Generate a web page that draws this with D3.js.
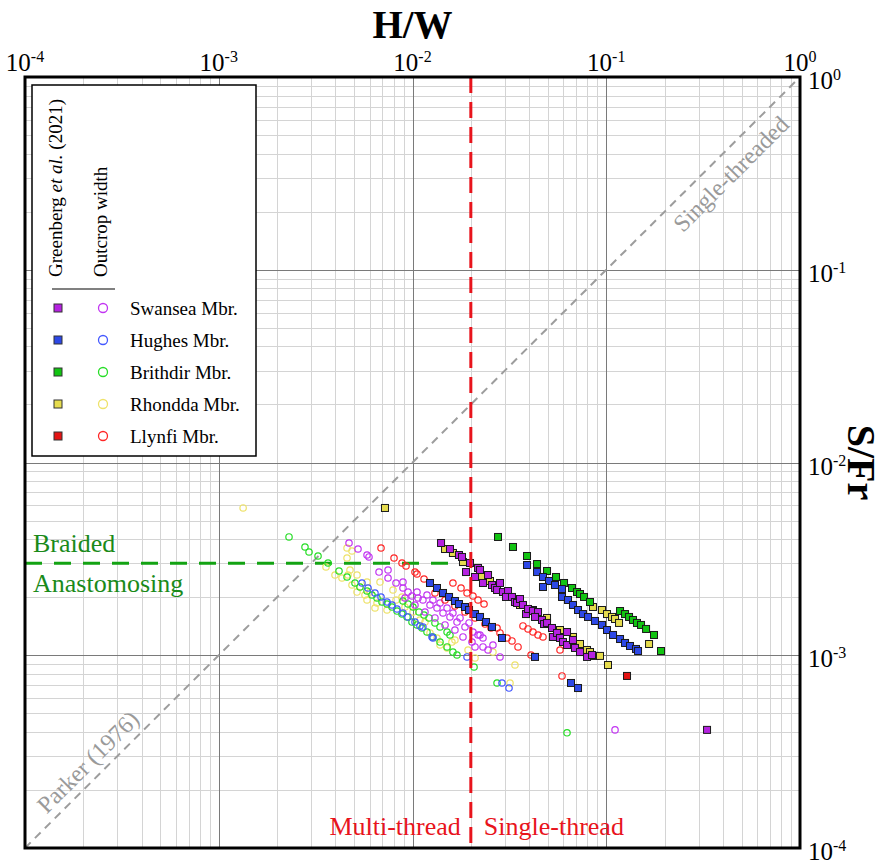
<!DOCTYPE html>
<html>
<head>
<meta charset="utf-8">
<title>H/W vs S/Fr</title>
<script src="https://cdn.jsdelivr.net/npm/d3@7"></script>
<style>
  body { margin: 0; background: #fff; }
  svg { font-family: "Liberation Serif", "Times New Roman", serif; }
  .minor { stroke: #d4d4d4; stroke-width: 1; }
  .major { stroke: #7a7a7a; stroke-width: 1; }
</style>
</head>
<body>
<svg id="chart" width="888" height="865"></svg>
<script>
// ---- data: [H/W, S/Fr] ----
const members = ['Swansea Mbr.', 'Hughes Mbr.', 'Brithdir Mbr.', 'Rhondda Mbr.', 'Llynfi Mbr.'];
const decades = [-4, -3, -2, -1, 0];

// Greenberg et al. (2021) - squares
const swanseaSquares = [[0.01404,0.003823],[0.01561,0.003558],[0.01737,0.003312],[0.01801,0.003235],[0.01981,0.003011],[0.02179,0.002836],
  [0.01889,0.002702],[0.02102,0.002547],[0.02231,0.002769],[0.02311,0.002371],[0.02454,0.002608],[0.02572,0.002314],[0.02665,0.002233],
  [0.02731,0.002180],[0.02829,0.002371],[0.02931,0.002128],[0.03112,0.002154],[0.03038,0.002006],[0.03262,0.002006],[0.03380,0.001889],
  [0.03463,0.001867],[0.03588,0.001958],[0.03717,0.001823],[0.03853,0.001636],[0.03947,0.001738],[0.04187,0.001696],[0.04445,0.001676],
  [0.04288,0.001580],[0.04660,0.001524],[0.04774,0.001452],[0.04947,0.001471],[0.05248,0.001385],[0.05310,0.001244],[0.05571,0.001305],
  [0.05772,0.001229],[0.05980,0.001171],[0.06274,0.001320],[0.06274,0.001130],[0.06734,0.001200],[0.06897,0.001091],[0.07320,0.001039],
  [0.07957,0.000980],[0.08442,0.001003],[0.3313,0.000410]];
const hughesSquares = [[0.01231,0.002371],[0.01338,0.002233],[0.01437,0.002104],[0.01544,0.002006],[0.01656,0.001912],[0.01737,0.001844],
  [0.01866,0.001780],[0.01958,0.001717],[0.02102,0.001636],[0.02231,0.001580],[0.02396,0.001487],[0.02572,0.001402],[0.02897,0.001229],
  [0.04288,0.000980],[0.06578,0.000718],[0.07150,0.000676],
  [0.03900,0.002939],[0.04393,0.002702],[0.04715,0.002547],[0.05065,0.002428],[0.04715,0.002260],[0.05438,0.002314],[0.05911,0.002206],
  [0.05911,0.002006],[0.06349,0.001935],[0.06734,0.001823],[0.07150,0.001717],[0.07584,0.001636],[0.08052,0.001580],[0.08747,0.001506],
  [0.09507,0.001436],[0.1009,0.001352],[0.1084,0.001274],[0.1178,0.001214],[0.1250,0.001158],[0.1326,0.001117],[0.1424,0.001078],[0.1459,0.001052]];
const brithdirSquares = [[0.02763,0.004108],[0.03301,0.003645],[0.03900,0.003273],[0.04393,0.002973],[0.04947,0.002736],[0.05504,0.002547],
  [0.06055,0.002371],[0.06656,0.002233],[0.07066,0.002128],[0.07320,0.002078],[0.07679,0.002006],[0.08244,0.001889],[0.1178,0.001696],
  [0.1250,0.001636],[0.1311,0.001580],[0.1374,0.001524],[0.1441,0.001471],[0.1512,0.001436],[0.1605,0.001369],[0.1764,0.001274],[0.1917,0.001052]];
const rhonddaSquares = [[0.00721,0.005809],[0.01472,0.003558],[0.01617,0.003393],[0.01822,0.003045],[0.02285,0.002547],[0.02512,0.002428],
  [0.03588,0.001823],[0.04187,0.001717],[0.04947,0.001561],[0.05772,0.001352],[0.06734,0.001244],[0.07320,0.001144],[0.07957,0.001065],
  [0.08244,0.001039],[0.08747,0.000992],[0.09284,0.000992],[0.1021,0.000890],[0.08541,0.001780],[0.09507,0.001717],[0.1009,0.001636],
  [0.1071,0.001580],[0.1110,0.001542],[0.1164,0.001471],[0.1663,0.001144]];
const llynfiSquares = [[0.1280,0.000781]];

// Outcrop width - circles
const swanseaCircles = [[0.004703,0.003823],[0.005234,0.003558],[0.005824,0.003312],[0.005963,0.003235],[0.006717,0.002702],[0.007477,0.002769],
  [0.007477,0.002517],[0.008220,0.002371],[0.008930,0.002398],[0.008930,0.002233],[0.009482,0.002128],[0.009940,0.002030],[0.01055,0.002128],
  [0.01068,0.001982],[0.01132,0.001935],[0.01188,0.002054],[0.01231,0.001823],[0.01275,0.001935],[0.01338,0.001759],[0.01387,0.001867],
  [0.01437,0.001657],[0.01508,0.001759],[0.01561,0.001580],[0.01617,0.001657],[0.01697,0.001487],[0.01759,0.001561],[0.01866,0.001402],
  [0.01958,0.001471],[0.02052,0.001320],[0.02179,0.001274],[0.02311,0.001229],[0.02311,0.001104],[0.02231,0.001274],[0.02602,0.001130],
  [0.02829,0.000980],[0.009146,0.001982],[0.01030,0.001823],[0.01160,0.001676],[0.01306,0.001561],[0.01472,0.001436],[0.01656,0.001352],
  [0.01822,0.001244],[0.02028,0.001171],[0.02454,0.001065],[0.02102,0.001104],[0.1110,0.000410]];
const hughesCircles = [[0.005487,0.002371],[0.005894,0.002233],[0.006403,0.002104],[0.006879,0.002006],[0.007388,0.001889],[0.007838,0.001823],
  [0.008320,0.001738],[0.008930,0.001657],[0.009482,0.001580],[0.01030,0.001487],[0.01093,0.001419],[0.01132,0.001402],[0.01261,0.001244],
  [0.01275,0.001229],[0.01912,0.000980],[0.02897,0.000718],[0.03149,0.000676]];
const brithdirCircles = [[0.002305,0.004108],[0.002787,0.003645],[0.002924,0.003432],[0.003254,0.003273],[0.003664,0.003011],[0.004176,0.002736],
  [0.004593,0.002547],[0.005048,0.002371],[0.005358,0.002260],[0.005824,0.002154],[0.006180,0.002054],[0.006560,0.001982],[0.006960,0.001889],
  [0.007388,0.001844],[0.007838,0.001780],[0.008320,0.001696],[0.008827,0.001636],[0.009370,0.001580],[0.009940,0.001487],[0.01055,0.001436],
  [0.01119,0.001385],[0.01188,0.001320],[0.01275,0.001244],[0.01387,0.001171],[0.01508,0.001104],[0.01617,0.001039],[0.01697,0.001003],
  [0.008930,0.001912],[0.009482,0.001844],[0.01006,0.001780],[0.01080,0.001676],[0.01147,0.001617],[0.01217,0.001561],[0.01306,0.001471],
  [0.01387,0.001402],[0.01508,0.001320],[0.01561,0.001274],[0.02078,0.000869],[0.02731,0.000718],[0.06274,0.000396]];
const rhonddaCircles = [[0.001336,0.005809],[0.004593,0.003602],[0.004872,0.003474],[0.004593,0.003196],[0.003577,0.002870],[0.003981,0.002608],
  [0.004326,0.002517],[0.004758,0.002769],[0.004648,0.002608],[0.005172,0.002608],[0.004872,0.002314],[0.005358,0.002260],[0.005172,0.002128],
  [0.005685,0.002054],[0.006035,0.002128],[0.005824,0.001935],[0.006560,0.001867],[0.006403,0.001759],[0.006797,0.002398],[0.005824,0.002398],
  [0.007388,0.001717],[0.007930,0.002180],[0.008220,0.001935],[0.008827,0.002006],[0.009146,0.001780],[0.01006,0.001676],[0.01093,0.001524],
  [0.01160,0.001487],[0.01231,0.001305],[0.01338,0.001229],[0.01387,0.001130],[0.01508,0.001091],[0.01598,0.001171],[0.01935,0.001065],
  [0.02102,0.000968],[0.03380,0.000890],[0.03186,0.000718],[0.02602,0.001039],[0.01656,0.001200]];
const llynfiCircles = [[0.006879,0.003602],[0.008029,0.003196],[0.008827,0.003011],[0.009258,0.002905],[0.01030,0.002702],[0.01055,0.002639],
  [0.01147,0.002487],[0.01617,0.002371],[0.01780,0.002233],[0.01912,0.002104],[0.02052,0.002030],[0.02179,0.001935],[0.02340,0.001844],
  [0.01306,0.002104],[0.01472,0.001935],[0.01656,0.001801],[0.01866,0.001676],[0.02102,0.001561],[0.02367,0.001452],[0.02542,0.001385],
  [0.02731,0.001385],[0.02829,0.001305],[0.03075,0.001229],[0.03262,0.001186],[0.03505,0.001104],[0.04090,0.001003],[0.03717,0.001419],
  [0.03947,0.001369],[0.04187,0.001320],[0.04445,0.001274],[0.04715,0.001244],[0.05772,0.001065],[0.05911,0.000781]];

const braidedLimit = 0.003;   // S/Fr
const threadLimit = 0.02;     // H/W

const squareFill = ['#b522e0', '#2d48e6', '#12c412', '#e6dc4e', '#e41414'];
const circleStroke = ['#c235f2', '#4358ff', '#27dd27', '#eee26a', '#ff2626'];

// ---- chart ----
const svg = d3.select('#chart');
const pLeft = 25, pRight = 800, pTop = 77, pBottom = 848;

const x = d3.scaleLog().domain([1e-4, 1]).range([pLeft, pRight]);
const y = d3.scaleLog().domain([1e-4, 1]).range([pBottom, pTop]);

const isDecade = d => Math.abs(Math.log10(d) - Math.round(Math.log10(d))) < 1e-9;

svg.append('rect').attr('x', pLeft).attr('y', pTop).attr('width', pRight - pLeft).attr('height', pBottom - pTop).attr('fill', '#fff');

// grid: minor first, then decades
const grid = svg.append('g');
[false, true].forEach(major => {
  grid.append('g').selectAll('line')
    .data(x.ticks().filter(d => isDecade(d) === major))
    .join('line')
    .attr('class', major ? 'major' : 'minor')
    .attr('x1', d => Math.round(x(d)) + 0.5).attr('x2', d => Math.round(x(d)) + 0.5)
    .attr('y1', pTop).attr('y2', pBottom);
  grid.append('g').selectAll('line')
    .data(y.ticks().filter(d => isDecade(d) === major))
    .join('line')
    .attr('class', major ? 'major' : 'minor')
    .attr('y1', d => Math.round(y(d)) + 0.5).attr('y2', d => Math.round(y(d)) + 0.5)
    .attr('x1', pLeft).attr('x2', pRight);
});

// 1:1 line (Parker 1976)
svg.append('line')
  .attr('x1', x(1e-4)).attr('y1', y(1e-4)).attr('x2', x(1)).attr('y2', y(1))
  .attr('stroke', '#9d9d9d').attr('stroke-width', 2).attr('stroke-dasharray', '8,6');

svg.append('text')
  .attr('transform', 'translate(731,174) rotate(-45)')
  .attr('text-anchor', 'middle').attr('dominant-baseline', 'central')
  .attr('font-size', 24).attr('fill', '#9a9a9a').text('Single-threaded');
svg.append('text')
  .attr('transform', 'translate(88,762) rotate(-45)')
  .attr('text-anchor', 'middle').attr('dominant-baseline', 'central')
  .attr('font-size', 24).attr('fill', '#9a9a9a').text('Parker (1976)');

// braided / anastomosing threshold
svg.append('line')
  .attr('x1', x(1e-4)).attr('x2', x(threadLimit))
  .attr('y1', y(braidedLimit)).attr('y2', y(braidedLimit))
  .attr('stroke', '#13a313').attr('stroke-width', 3).attr('stroke-dasharray', '17,12');
svg.append('text').attr('x', 33).attr('y', y(braidedLimit) - 11)
  .attr('font-size', 26).attr('fill', '#1a8a1a').text('Braided');
svg.append('text').attr('x', 33).attr('y', y(braidedLimit) + 29)
  .attr('font-size', 26).attr('fill', '#1a8a1a').text('Anastomosing');

// circles (outcrop width), drawn under the squares
const circleSets = [rhonddaCircles, brithdirCircles, hughesCircles, swanseaCircles, llynfiCircles];
const circleIdx = [3, 2, 1, 0, 4];
circleSets.forEach((set, k) => {
  svg.append('g').selectAll('circle').data(set).join('circle')
    .attr('cx', d => x(d[0])).attr('cy', d => y(d[1])).attr('r', 3.2)
    .attr('fill', 'none').attr('stroke', circleStroke[circleIdx[k]]).attr('stroke-width', 1.2);
});

// squares (Greenberg et al. 2021)
const squareSets = [llynfiSquares, rhonddaSquares, brithdirSquares, hughesSquares, swanseaSquares];
const squareIdx = [4, 3, 2, 1, 0];
squareSets.forEach((set, k) => {
  svg.append('g').selectAll('rect').data(set).join('rect')
    .attr('x', d => x(d[0]) - 3.5).attr('y', d => y(d[1]) - 3.5)
    .attr('width', 7).attr('height', 7)
    .attr('fill', squareFill[squareIdx[k]]).attr('stroke', '#1a1a1a').attr('stroke-width', 1);
});

// multi / single thread threshold
svg.append('line')
  .attr('x1', x(threadLimit)).attr('x2', x(threadLimit))
  .attr('y1', pTop).attr('y2', pBottom)
  .attr('stroke', '#e8141c').attr('stroke-width', 3).attr('stroke-dasharray', '16,9');
svg.append('text').attr('x', x(threadLimit) - 10).attr('y', 835)
  .attr('text-anchor', 'end').attr('font-size', 26).attr('fill', '#e8141c').text('Multi-thread');
svg.append('text').attr('x', x(threadLimit) + 13).attr('y', 835)
  .attr('font-size', 26).attr('fill', '#e8141c').text('Single-thread');

// legend
const lg = svg.append('g');
lg.append('rect').attr('x', 32).attr('y', 85).attr('width', 224).attr('height', 371)
  .attr('fill', '#fff').attr('stroke', '#000').attr('stroke-width', 1.5);
const head = lg.append('text').attr('transform', 'translate(62,277) rotate(-90)').attr('font-size', 19);
head.append('tspan').text('Greenberg ');
head.append('tspan').attr('font-style', 'italic').text('et al.');
head.append('tspan').text(' (2021)');
lg.append('text').attr('transform', 'translate(107,277) rotate(-90)').attr('font-size', 19).text('Outcrop width');
lg.append('line').attr('x1', 52).attr('x2', 115).attr('y1', 289).attr('y2', 289)
  .attr('stroke', '#808080').attr('stroke-width', 2);

members.forEach((name, i) => {
  const ry = 308 + i * 32;
  lg.append('rect').attr('x', 54).attr('y', ry - 4).attr('width', 8).attr('height', 8)
    .attr('fill', squareFill[i]).attr('stroke', '#333').attr('stroke-width', 1);
  lg.append('circle').attr('cx', 103).attr('cy', ry).attr('r', 4.5)
    .attr('fill', 'none').attr('stroke', circleStroke[i]).attr('stroke-width', 1.3);
  lg.append('text').attr('x', 130).attr('y', ry + 7).attr('font-size', 19).text(name);
});

// frame
svg.append('rect').attr('x', pLeft).attr('y', pTop).attr('width', pRight - pLeft).attr('height', pBottom - pTop)
  .attr('fill', 'none').attr('stroke', '#000').attr('stroke-width', 3);

// top axis labels
svg.append('g').selectAll('text').data(decades).join('text')
  .attr('x', d => x(Math.pow(10, d))).attr('y', 71)
  .attr('text-anchor', 'middle').attr('font-size', 25)
  .each(function (d) {
    const t = d3.select(this);
    t.append('tspan').text('10');
    t.append('tspan').attr('dy', -9).attr('font-size', 16).text(d);
  });

// right axis labels
svg.append('g').selectAll('text').data(decades).join('text')
  .attr('x', 808).attr('y', d => y(Math.pow(10, d)) + 12)
  .attr('font-size', 25)
  .each(function (d) {
    const t = d3.select(this);
    t.append('tspan').text('10');
    t.append('tspan').attr('dy', -9).attr('font-size', 16).text(d);
  });

// axis titles
svg.append('text').attr('x', (pLeft + pRight) / 2).attr('y', 38)
  .attr('text-anchor', 'middle').attr('font-size', 39).attr('font-weight', 'bold').text('H/W');
svg.append('text').attr('transform', `translate(848,${y(0.01)}) rotate(90)`)
  .attr('text-anchor', 'middle').attr('font-size', 40).attr('font-weight', 'bold').text('S/Fr');
</script>
</body>
</html>
